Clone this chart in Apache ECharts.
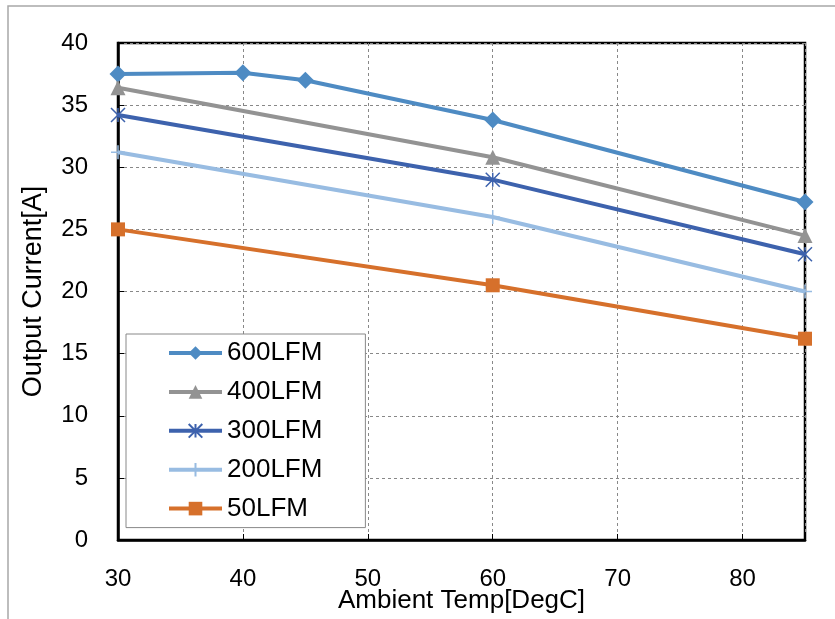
<!DOCTYPE html>
<html>
<head>
<meta charset="utf-8">
<script src="https://cdn.jsdelivr.net/npm/echarts@6/dist/echarts.min.js"></script>
<style>html,body{margin:0;padding:0;background:#fff;}#c{width:835px;height:619px;}</style>
</head>
<body>
<div id="c"></div>
<script>
const temps600 = [30, 40, 45, 60, 85];
const lfm600 = [37.5, 37.6, 37.0, 33.8, 27.2];
const temps = [30, 60, 85];
const lfm400 = [36.4, 30.8, 24.5];
const lfm300 = [34.2, 29.0, 23.0];
const lfm200 = [31.2, 26.0, 20.0];
const lfm50 = [25.0, 20.5, 16.2];
const seriesNames = ['600LFM', '400LFM', '300LFM', '200LFM', '50LFM'];
const xTitle = 'Ambient Temp[DegC]';
const yTitle = 'Output Current[A]';

const FONT = 'Liberation Sans';
const pair = (xs, ys) => xs.map((x, i) => [x, ys[i]]);

function mk(name, data, color, symbol, size, extra) {
  return Object.assign({
    name: name, type: 'line', data: data, clip: false,
    symbol: symbol, symbolSize: size,
    lineStyle: { color: color, width: 4 },
    itemStyle: { color: color },
    emphasis: { disabled: true }
  }, extra || {});
}

const chart = echarts.init(document.getElementById('c'));
chart.setOption({
  animation: false,
  backgroundColor: '#fff',
  graphic: [{
    type: 'rect', shape: { x: 8, y: 6, width: 900, height: 700 },
    style: { fill: 'none', stroke: '#a8a8a8', lineWidth: 1.5 }, silent: true, z: -10
  }],
  grid: { left: 118, top: 43, right: 30, bottom: 79, containLabel: false, outerBoundsMode: 'none',
    show: true, borderColor: '#000', borderWidth: 2.5, backgroundColor: 'transparent' },
  legend: {
    orient: 'vertical', left: 126, top: 334,
    backgroundColor: '#fff', borderColor: '#888', borderWidth: 1,
    padding: [6, 43, 6, 41],
    itemWidth: 53, itemHeight: 17, itemGap: 12.9,
    lineStyle: { width: 4 },
    textStyle: { fontFamily: FONT, fontSize: 26, color: '#000', lineHeight: 26 },
    data: seriesNames
  },
  xAxis: {
    type: 'value', min: 30, max: 85, interval: 10,
    name: xTitle, nameLocation: 'middle', nameGap: 48, nameMoveOverlap: false,
    nameTextStyle: { fontFamily: FONT, fontSize: 26, color: '#000' },
    axisLine: { lineStyle: { color: '#000', width: 2.5 } },
    axisTick: { inside: true, length: 6, lineStyle: { color: '#000' } },
    axisLabel: { fontFamily: FONT, fontSize: 24, color: '#000', margin: 27,
      formatter: v => (v === 85 ? '' : String(v)) },
    splitLine: { show: true, lineStyle: { color: '#888', type: [3, 3], width: 1 } }
  },
  yAxis: {
    type: 'value', min: 0, max: 40, interval: 5,
    name: yTitle, nameLocation: 'middle', nameGap: 71, nameRotate: 90, nameMoveOverlap: false,
    nameTextStyle: { fontFamily: FONT, fontSize: 27, color: '#000' },
    axisLine: { show: true, lineStyle: { color: '#000', width: 2.5 } },
    axisTick: { show: true, inside: true, length: 6, lineStyle: { color: '#000' } },
    axisLabel: { fontFamily: FONT, fontSize: 24, color: '#000', margin: 30 },
    splitLine: { show: true, lineStyle: { color: '#888', type: [3, 3], width: 1 } }
  },
  series: [
    mk(seriesNames[0], pair(temps600, lfm600), '#4e8bc3', 'diamond', 17),
    mk(seriesNames[1], pair(temps, lfm400), '#939393', 'triangle', 15),
    mk(seriesNames[2], pair(temps, lfm300), '#3d62ad', 'path://M0,0L10,10M0,10L10,0M5,0L5,10', 14,
      { itemStyle: { color: 'none', borderColor: '#3d62ad', borderWidth: 1.5 } }),
    mk(seriesNames[3], pair(temps, lfm200), '#98bce2', 'path://M5,0L5,10M0,5L10,5', 14,
      { itemStyle: { color: 'none', borderColor: '#98bce2', borderWidth: 1.5 } }),
    mk(seriesNames[4], pair(temps, lfm50), '#d6702b', 'rect', 14)
  ]
});
</script>
</body>
</html>
